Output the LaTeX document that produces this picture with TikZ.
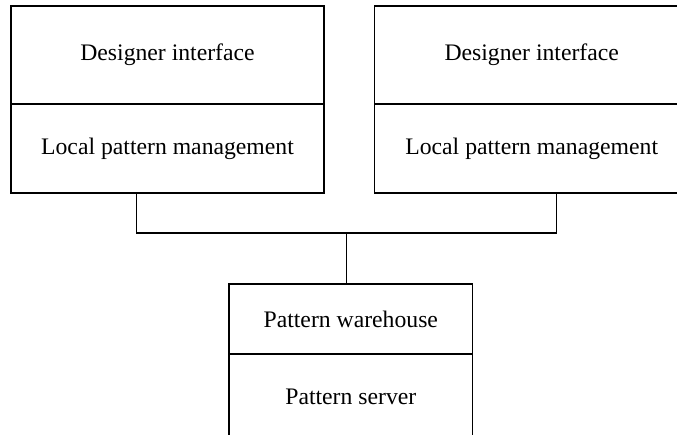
\documentclass[tikz,border=0pt]{standalone}
\usepackage{fontspec}
\setmainfont{Liberation Serif}
\begin{document}
\begin{tikzpicture}[x=1pt,y=-1pt,
  line width=1.2pt,
  part/.style={draw=black, rectangle, inner sep=0pt, minimum width=#1,
    font=\fontsize{23.7}{28}\selectfont, text=black},
  wire/.style={draw=black, line width=1.2pt}]
  \useasboundingbox (0,0) rectangle (677,434);
  \clip (0,0) rectangle (677,434);

  % left client: two stacked layers
  \node[part=313pt, minimum height=98pt]  (ltop) at (167.5,55)   {Designer interface};
  \node[part=313pt, minimum height=89pt]  (lbot) at (167.5,148.5) {Local pattern management};

  % right client
  \node[part=314pt, minimum height=98pt]  (rtop) at (531.7,55)   {Designer interface};
  \node[part=314pt, minimum height=89pt]  (rbot) at (531.7,148.5) {Local pattern management};

  % server: two stacked layers
  \node[part=243.7pt, minimum height=70pt] (stop) at (350.8,319) {Pattern warehouse};
  \node[part=243.7pt, minimum height=86pt] (sbot) at (350.8,397) {Pattern server};

  % bus joining the clients to the server
  \coordinate (lx) at (136.7,0);
  \coordinate (rx) at (556.3,0);
  \coordinate (cx) at (346.5,0);
  \coordinate (bus) at (346.5,233);
  \draw[wire] (lbot.south -| lx) |- (bus) -| (rbot.south -| rx);
  \draw[wire] (bus) -- (stop.north -| cx);
\end{tikzpicture}
\end{document}
